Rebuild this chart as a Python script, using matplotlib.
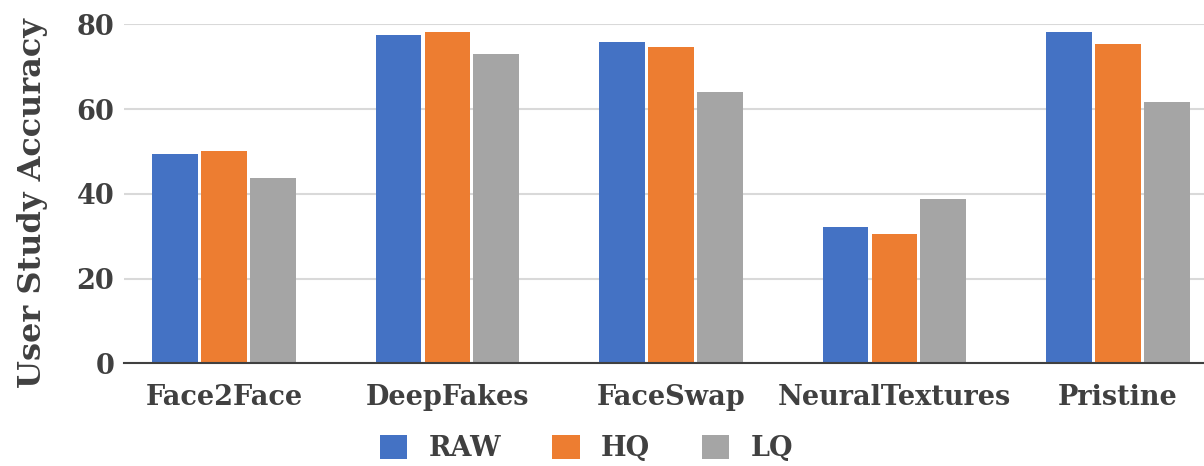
import numpy as np
import matplotlib.pyplot as plt

# User study accuracy per manipulation method and compression level
methods = ['Face2Face', 'DeepFakes', 'FaceSwap', 'NeuralTextures', 'Pristine']
raw = [49.4, 77.5, 75.8, 32.1, 78.1]
hq = [50.1, 78.1, 74.6, 30.4, 75.4]
lq = [43.8, 73.0, 64.0, 38.7, 61.7]

series = [('RAW', raw, '#4472c4'), ('HQ', hq, '#ed7d31'), ('LQ', lq, '#a5a5a5')]
text_color = '#404040'

plt.rcParams['font.family'] = 'DejaVu Serif'
plt.rcParams['font.weight'] = 'bold'

fig = plt.figure(figsize=(12.04, 4.66), dpi=100)
ax = fig.add_axes([124 / 1204, 0.2204, 1 - 124 / 1204, 0.7275])

x = np.arange(len(methods))
width = 0.205
step = 0.219
for i, (name, vals, color) in enumerate(series):
    ax.bar(x + (i - 1) * step, vals, width, color=color, label=name, zorder=3)

ax.set_xlim(-0.447, len(methods) - 1 + 0.385)
ax.set_ylim(0, 80)
ax.set_yticks([0, 20, 40, 60, 80])
ax.set_xticks(x)
ax.set_xticklabels(methods)
ax.tick_params(axis='both', length=0, colors=text_color, labelsize=19.5)
ax.tick_params(axis='x', pad=15)
ax.tick_params(axis='y', pad=7)
for lbl in ax.get_xticklabels() + ax.get_yticklabels():
    lbl.set_fontweight('bold')

ax.grid(axis='y', color='#d9d9d9', linewidth=1.5, zorder=0)
for side in ['top', 'right', 'left']:
    ax.spines[side].set_visible(False)
ax.spines['bottom'].set_color('#404040')
ax.spines['bottom'].set_linewidth(1.5)
ax.spines['bottom'].set_zorder(4)

ax.set_ylabel('User Study Accuracy', fontsize=23, fontweight='bold',
              color=text_color)
ax.yaxis.set_label_coords(-0.070, 0.474)

fig.legend(loc='center', bbox_to_anchor=(0.487, 0.038), ncol=3, frameon=False,
           fontsize=19.5, handlelength=1.0, handleheight=1.0, columnspacing=1.9,
           handletextpad=0.8, labelcolor=text_color)

fig.savefig('out.png', dpi=100)
